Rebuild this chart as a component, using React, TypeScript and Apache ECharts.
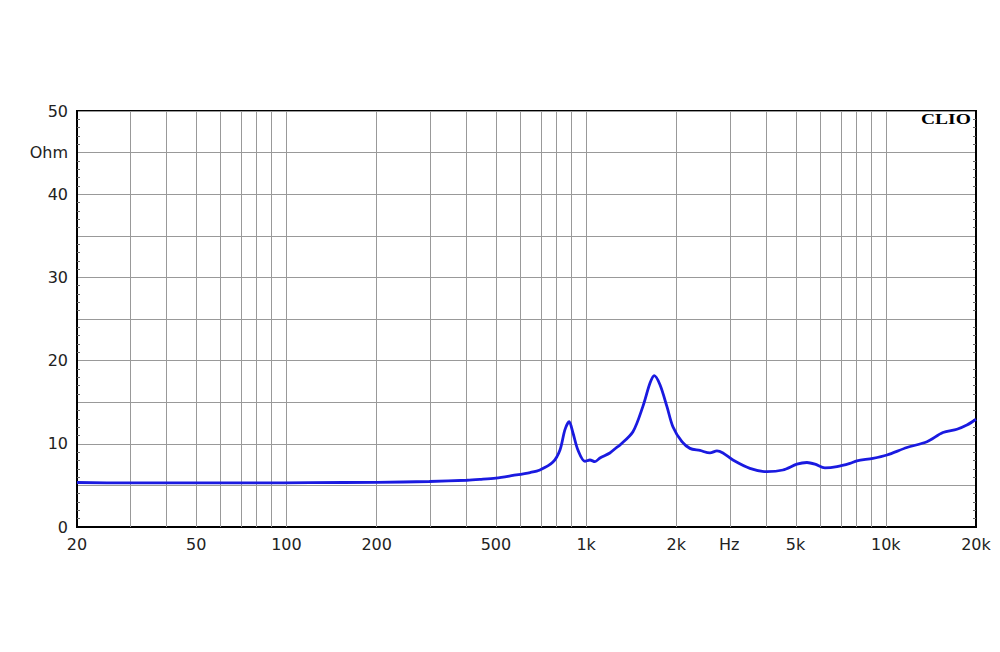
import React, { useEffect, useRef } from "react";
import * as echarts from "echarts";

const freqHz = [
  20, 30, 50, 80, 120, 200, 300, 400, 442, 500, 570, 650, 701, 775, 818, 850, 878, 904, 939, 991,
  1030, 1070, 1112, 1200, 1268, 1297, 1433, 1547, 1634, 1688, 1764, 1860, 1948, 2088, 2220,
  2398, 2590, 2733, 2862, 3090, 3520, 4013, 4536, 5052, 5456, 5802, 6264, 6871, 7594, 8012,
  9058, 10088, 11762, 13720, 15514, 17278, 18646, 20000,
];
const impedanceOhm = [
  5.35, 5.3, 5.3, 5.3, 5.33, 5.37, 5.47, 5.62, 5.72, 5.88, 6.2, 6.55, 6.85, 7.8, 9.25, 11.7, 12.65, 11.3, 9.25, 7.9,
  8.05, 7.85, 8.3, 8.9, 9.6, 9.85, 11.45, 14.5, 17.3, 18.2, 17.1, 14.5, 12.05, 10.25, 9.45,
  9.2, 8.9, 9.15, 8.9, 8.05, 7.05, 6.65, 6.85, 7.55, 7.75, 7.55, 7.1, 7.25, 7.65, 7.95,
  8.25, 8.65, 9.55, 10.25, 11.35, 11.75, 12.25, 12.95,
];
const gridFreqs = [
  30, 40, 50, 60, 70, 80, 90, 100, 200, 300, 400, 500, 600, 700, 800, 900, 1000,
  2000, 3000, 4000, 5000, 6000, 7000, 8000, 9000, 10000,
];
const xLabelFreqs = [20, 50, 100, 200, 500, 1000, 2000, 3000, 5000, 10000, 20000];
const xLabelTexts = ["20", "50", "100", "200", "500", "1k", "2k", "Hz", "5k", "10k", "20k"];
const yLabelValues = [0, 10, 20, 30, 40, 45, 50];
const yLabelTexts = ["0", "10", "20", "30", "40", "Ohm", "50"];

const lg = (f: number) => Math.log10(f);

export default function App() {
  const ref = useRef<HTMLDivElement>(null);
  useEffect(() => {
    if (!ref.current) return;
    const chart = echarts.init(ref.current, undefined, { renderer: "svg" });
    const xLabelVals = xLabelFreqs.map(lg);
    const font = "'DejaVu Sans', sans-serif";
    chart.setOption({
      animation: false,
      backgroundColor: "#fff",
      grid: {
        left: 77,
        right: 24,
        top: 111,
        bottom: 125,
        show: true,
        borderColor: "#000",
        borderWidth: 2,
        backgroundColor: "transparent",
      },
      xAxis: {
        type: "value",
        min: lg(20),
        max: lg(20000),
        axisLine: { show: true, lineStyle: { color: "#000", width: 2 } },
        axisTick: { show: false },
        splitLine: { show: false },
        axisLabel: {
          customValues: xLabelVals,
          showMinLabel: true,
          showMaxLabel: true,
          margin: 9,
          color: "#222",
          fontSize: 16,
          fontFamily: font,
          formatter: (v: number) => {
            let best = 0;
            let bd = Infinity;
            xLabelVals.forEach((lv, i) => {
              const d = Math.abs(lv - v);
              if (d < bd) {
                bd = d;
                best = i;
              }
            });
            return xLabelTexts[best];
          },
        },
      },
      yAxis: [
        {
          type: "value",
          min: 0,
          max: 50,
          interval: 5,
          axisLine: { show: true, lineStyle: { color: "#000", width: 2 } },
          axisTick: { show: false },
          minorTick: { show: true, splitNumber: 5, length: -3, lineStyle: { color: "#666" } },
          splitLine: { show: true, lineStyle: { color: "#999", width: 1 } },
          axisLabel: {
            margin: 9,
            color: "#222",
            fontSize: 16,
            fontFamily: font,
            formatter: (v: number) => {
              const i = yLabelValues.findIndex((y) => Math.abs(y - v) < 0.01);
              return i >= 0 ? yLabelTexts[i] : "";
            },
          },
        },
        {
          type: "value",
          position: "right",
          min: 0,
          max: 50,
          interval: 5,
          axisLine: { show: true, lineStyle: { color: "#000", width: 2 } },
          axisTick: { show: false },
          minorTick: { show: true, splitNumber: 5, length: -3, lineStyle: { color: "#666" } },
          splitLine: { show: false },
          axisLabel: { show: false },
        },
      ],
      graphic: [
        {
          type: "text",
          x: 921,
          y: 112,
          scaleX: 1.3,
          z: 10,
          style: {
            text: "CLIO",
            font: "bold 15px 'Liberation Serif', serif",
            fill: "#000",
            textAlign: "left",
            textVerticalAlign: "top",
          },
        },
      ],
      series: [
        {
          type: "line",
          data: [],
          z: 1,
          silent: true,
          markLine: {
            silent: true,
            symbol: "none",
            label: { show: false },
            lineStyle: { color: "#999", width: 1, type: "solid" },
            data: gridFreqs.map((f) => ({ xAxis: lg(f) })),
          },
        },
        {
          type: "line",
          z: 5,
          data: freqHz.map((f, i) => [lg(f), impedanceOhm[i]]),
          showSymbol: false,
          smooth: 0.3,
          lineStyle: { color: "#1a1ae0", width: 2.8 },
        },
      ],
    });
    return () => chart.dispose();
  }, []);
  return <div ref={ref} style={{ width: 1000, height: 652, position: "absolute", left: 0, top: 0 }} />;
}
